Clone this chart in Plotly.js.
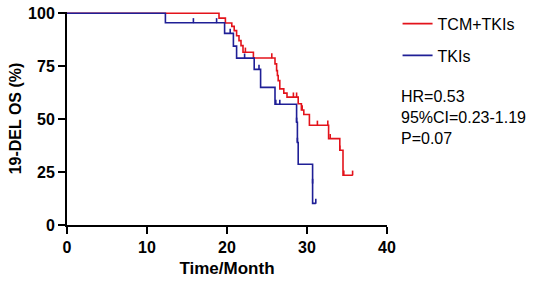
<!DOCTYPE html>
<html>
<head>
<meta charset="utf-8">
<script src="https://cdn.plot.ly/plotly-3.0.1.min.js"></script>
<style>html,body{margin:0;padding:0;background:#fff;}#chart{width:536px;height:283px;}</style>
</head>
<body>
<div id="chart"></div>
<script>
// TCM+TKIs Kaplan-Meier steps (time in months, survival in %)
var tcmTime = [0, 19.0, 19.8, 20.6, 20.9, 21.2, 21.5, 21.75, 22.0, 23.3, 26.0, 26.2, 26.3, 26.4, 26.6, 27.1, 27.5, 28.9, 29.3, 29.6, 30.3, 32.7, 34.1, 34.5, 35.7];
var tcmSurv = [100, 97.7, 95.4, 93.8, 91.8, 89.4, 87.1, 84.7, 81.6, 78.9, 76.1, 72.9, 70.6, 68.2, 64.3, 62.3, 60.4, 57.3, 54.3, 52.2, 47.1, 40.8, 35.3, 23.5, 23.5];
var tcmCensTime = [22.3, 25.6, 28.3, 28.7, 29.4, 31.3, 32.6, 32.9, 34.1, 34.6, 35.7];
var tcmCensSurv = [81.6, 78.9, 60.4, 60.4, 54.3, 47.1, 47.1, 40.8, 35.3, 23.5, 23.5];

// TKIs Kaplan-Meier steps
var tkiTime = [0, 12.3, 19.7, 20.8, 21.2, 23.4, 24.2, 26.0, 28.7, 28.8, 28.9, 30.7, 31.1];
var tkiSurv = [100, 95.5, 90.5, 84.5, 78.8, 73.5, 65.0, 57.0, 48.5, 39.0, 28.7, 10.2, 10.2];
var tkiCensTime = [15.8, 18.7, 20.4, 22.2, 24.0, 26.1, 26.6, 28.7, 28.8, 30.7, 31.1];
var tkiCensSurv = [95.5, 95.5, 90.5, 78.8, 73.5, 57.0, 57.0, 48.5, 39.0, 19.6, 10.2];

var groupNames = ['TCM+TKIs', 'TKIs'];
var stats = ['HR=0.53', '95%CI=0.23-1.19', 'P=0.07'];
var xTicks = [0, 10, 20, 30, 40];
var yTicks = [0, 25, 50, 75, 100];

var red = '#e3131b', blue = '#1f1f96';

function cens(t, s, c) {
  return {x: t, y: s, mode: 'markers', type: 'scatter', showlegend: false, hoverinfo: 'skip',
    marker: {size: 1, color: c},
    error_y: {type: 'constant', value: 2.2, symmetric: false, valueminus: 0, width: 0, thickness: 1.6, color: c}};
}

var traces = [
  {x: tcmTime, y: tcmSurv, mode: 'lines', type: 'scatter', name: groupNames[0], legendgroup: 'a',
   line: {shape: 'hv', color: red, width: 1.6}},
  {x: tkiTime, y: tkiSurv, mode: 'lines', type: 'scatter', name: groupNames[1], legendgroup: 'b',
   line: {shape: 'hv', color: blue, width: 1.6}},
  cens(tcmCensTime, tcmCensSurv, red),
  cens(tkiCensTime, tkiCensSurv, blue)
];

var bold = {family: 'Liberation Sans, Arial, sans-serif', size: 16, color: '#000', weight: 'bold'};

var layout = {
  width: 536, height: 283,
  margin: {l: 67, r: 149, t: 12, b: 58, autoexpand: false},
  paper_bgcolor: '#fff', plot_bgcolor: '#fff',
  font: {family: 'Liberation Sans, Arial, sans-serif', size: 16, color: '#000'},
  xaxis: {range: [0, 40], tickvals: xTicks, ticktext: xTicks.map(String), showgrid: false, zeroline: false,
    showline: true, linecolor: '#000', linewidth: 2, ticks: 'outside', ticklen: 7, tickwidth: 2, tickcolor: '#000',
    tickfont: bold, title: {text: 'Time/Month', font: {family: 'Liberation Sans, Arial, sans-serif', size: 17, color: '#000', weight: 'bold'}, standoff: 7}},
  yaxis: {range: [0, 100.6], tickvals: yTicks, ticktext: yTicks.map(String), showgrid: false, zeroline: false,
    showline: true, linecolor: '#000', linewidth: 2, ticks: 'outside', ticklen: 7, tickwidth: 2, tickcolor: '#000',
    tickfont: bold, title: {text: '19-DEL OS (%)', font: bold, standoff: 2}},
  showlegend: true,
  legend: {x: 1.033, y: 1.025, xanchor: 'left', yanchor: 'top', bgcolor: 'rgba(0,0,0,0)',
    font: {family: 'Liberation Sans, Arial, sans-serif', size: 16, color: '#000'}, traceorder: 'grouped', tracegroupgap: 8},
  annotations: [{xref: 'paper', yref: 'paper', x: 1.036, y: 0.652, xanchor: 'left', yanchor: 'top', align: 'left',
    showarrow: false, text: stats.join('<br>'), font: {family: 'Liberation Sans, Arial, sans-serif', size: 16, color: '#000'}}]
};

Plotly.newPlot('chart', traces, layout, {displayModeBar: false, staticPlot: true});
</script>
</body>
</html>
